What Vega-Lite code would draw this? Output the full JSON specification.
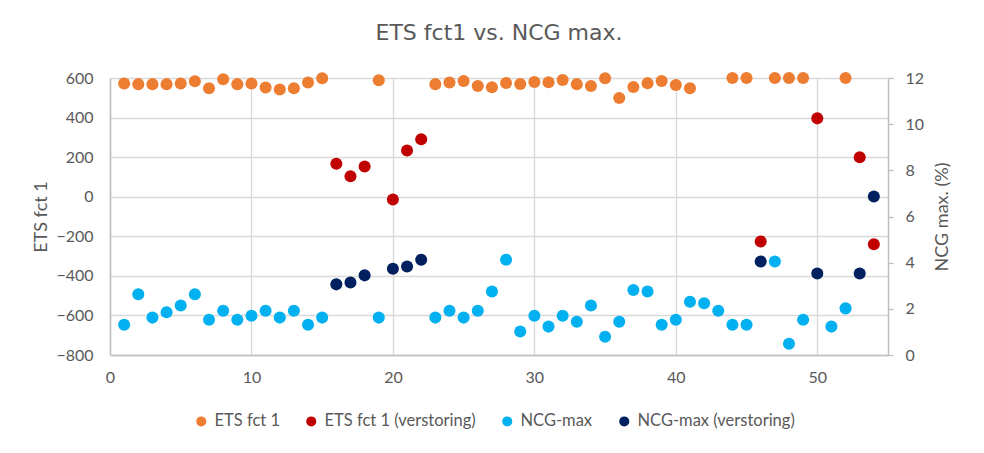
{
  "$schema": "https://vega.github.io/schema/vega-lite/v6.json",
  "width": 778,
  "height": 277,
  "autosize": {"type": "none"},
  "padding": {"left": 110, "top": 78, "right": 96, "bottom": 98},
  "background": "white",
  "title": {"text": "ETS fct1 vs. NCG max.", "font": "DejaVu Sans", "fontSize": 22, "fontWeight": "normal", "color": "#595959", "anchor": "middle", "offset": 25},
  "datasets": {
    "ets": [
      {"x": 1, "value": 572, "series": "ETS fct 1"},
      {"x": 2, "value": 569, "series": "ETS fct 1"},
      {"x": 3, "value": 569, "series": "ETS fct 1"},
      {"x": 4, "value": 569, "series": "ETS fct 1"},
      {"x": 5, "value": 572, "series": "ETS fct 1"},
      {"x": 6, "value": 584, "series": "ETS fct 1"},
      {"x": 7, "value": 548, "series": "ETS fct 1"},
      {"x": 8, "value": 594, "series": "ETS fct 1"},
      {"x": 9, "value": 569, "series": "ETS fct 1"},
      {"x": 10, "value": 572, "series": "ETS fct 1"},
      {"x": 11, "value": 552, "series": "ETS fct 1"},
      {"x": 12, "value": 542, "series": "ETS fct 1"},
      {"x": 13, "value": 548, "series": "ETS fct 1"},
      {"x": 14, "value": 577, "series": "ETS fct 1"},
      {"x": 15, "value": 599, "series": "ETS fct 1"},
      {"x": 19, "value": 589, "series": "ETS fct 1"},
      {"x": 23, "value": 569, "series": "ETS fct 1"},
      {"x": 24, "value": 577, "series": "ETS fct 1"},
      {"x": 25, "value": 585, "series": "ETS fct 1"},
      {"x": 26, "value": 560, "series": "ETS fct 1"},
      {"x": 27, "value": 553, "series": "ETS fct 1"},
      {"x": 28, "value": 575, "series": "ETS fct 1"},
      {"x": 29, "value": 570, "series": "ETS fct 1"},
      {"x": 30, "value": 580, "series": "ETS fct 1"},
      {"x": 31, "value": 579, "series": "ETS fct 1"},
      {"x": 32, "value": 590, "series": "ETS fct 1"},
      {"x": 33, "value": 569, "series": "ETS fct 1"},
      {"x": 34, "value": 560, "series": "ETS fct 1"},
      {"x": 35, "value": 599, "series": "ETS fct 1"},
      {"x": 36, "value": 499, "series": "ETS fct 1"},
      {"x": 37, "value": 555, "series": "ETS fct 1"},
      {"x": 38, "value": 574, "series": "ETS fct 1"},
      {"x": 39, "value": 585, "series": "ETS fct 1"},
      {"x": 40, "value": 565, "series": "ETS fct 1"},
      {"x": 41, "value": 548, "series": "ETS fct 1"},
      {"x": 44, "value": 600, "series": "ETS fct 1"},
      {"x": 45, "value": 600, "series": "ETS fct 1"},
      {"x": 47, "value": 600, "series": "ETS fct 1"},
      {"x": 48, "value": 600, "series": "ETS fct 1"},
      {"x": 49, "value": 600, "series": "ETS fct 1"},
      {"x": 52, "value": 600, "series": "ETS fct 1"},
      {"x": 16, "value": 167, "series": "ETS fct 1 (verstoring)"},
      {"x": 17, "value": 103, "series": "ETS fct 1 (verstoring)"},
      {"x": 18, "value": 153, "series": "ETS fct 1 (verstoring)"},
      {"x": 20, "value": -14, "series": "ETS fct 1 (verstoring)"},
      {"x": 21, "value": 234, "series": "ETS fct 1 (verstoring)"},
      {"x": 22, "value": 290, "series": "ETS fct 1 (verstoring)"},
      {"x": 46, "value": -226, "series": "ETS fct 1 (verstoring)"},
      {"x": 50, "value": 396, "series": "ETS fct 1 (verstoring)"},
      {"x": 53, "value": 199, "series": "ETS fct 1 (verstoring)"},
      {"x": 54, "value": -240, "series": "ETS fct 1 (verstoring)"}
    ],
    "ncg": [
      {"x": 1, "value": 1.31, "series": "NCG-max"},
      {"x": 2, "value": 2.63, "series": "NCG-max"},
      {"x": 3, "value": 1.62, "series": "NCG-max"},
      {"x": 4, "value": 1.85, "series": "NCG-max"},
      {"x": 5, "value": 2.14, "series": "NCG-max"},
      {"x": 6, "value": 2.63, "series": "NCG-max"},
      {"x": 7, "value": 1.53, "series": "NCG-max"},
      {"x": 8, "value": 1.92, "series": "NCG-max"},
      {"x": 9, "value": 1.53, "series": "NCG-max"},
      {"x": 10, "value": 1.70, "series": "NCG-max"},
      {"x": 11, "value": 1.92, "series": "NCG-max"},
      {"x": 12, "value": 1.62, "series": "NCG-max"},
      {"x": 13, "value": 1.92, "series": "NCG-max"},
      {"x": 14, "value": 1.31, "series": "NCG-max"},
      {"x": 15, "value": 1.62, "series": "NCG-max"},
      {"x": 19, "value": 1.62, "series": "NCG-max"},
      {"x": 23, "value": 1.62, "series": "NCG-max"},
      {"x": 24, "value": 1.92, "series": "NCG-max"},
      {"x": 25, "value": 1.62, "series": "NCG-max"},
      {"x": 26, "value": 1.92, "series": "NCG-max"},
      {"x": 27, "value": 2.75, "series": "NCG-max"},
      {"x": 28, "value": 4.13, "series": "NCG-max"},
      {"x": 29, "value": 1.02, "series": "NCG-max"},
      {"x": 30, "value": 1.70, "series": "NCG-max"},
      {"x": 31, "value": 1.23, "series": "NCG-max"},
      {"x": 32, "value": 1.70, "series": "NCG-max"},
      {"x": 33, "value": 1.44, "series": "NCG-max"},
      {"x": 34, "value": 2.14, "series": "NCG-max"},
      {"x": 35, "value": 0.79, "series": "NCG-max"},
      {"x": 36, "value": 1.44, "series": "NCG-max"},
      {"x": 37, "value": 2.82, "series": "NCG-max"},
      {"x": 38, "value": 2.75, "series": "NCG-max"},
      {"x": 39, "value": 1.31, "series": "NCG-max"},
      {"x": 40, "value": 1.53, "series": "NCG-max"},
      {"x": 41, "value": 2.31, "series": "NCG-max"},
      {"x": 42, "value": 2.24, "series": "NCG-max"},
      {"x": 43, "value": 1.92, "series": "NCG-max"},
      {"x": 44, "value": 1.31, "series": "NCG-max"},
      {"x": 45, "value": 1.31, "series": "NCG-max"},
      {"x": 47, "value": 4.05, "series": "NCG-max"},
      {"x": 48, "value": 0.49, "series": "NCG-max"},
      {"x": 49, "value": 1.53, "series": "NCG-max"},
      {"x": 51, "value": 1.23, "series": "NCG-max"},
      {"x": 52, "value": 2.02, "series": "NCG-max"},
      {"x": 16, "value": 3.06, "series": "NCG-max (verstoring)"},
      {"x": 17, "value": 3.14, "series": "NCG-max (verstoring)"},
      {"x": 18, "value": 3.45, "series": "NCG-max (verstoring)"},
      {"x": 20, "value": 3.74, "series": "NCG-max (verstoring)"},
      {"x": 21, "value": 3.83, "series": "NCG-max (verstoring)"},
      {"x": 22, "value": 4.13, "series": "NCG-max (verstoring)"},
      {"x": 46, "value": 4.05, "series": "NCG-max (verstoring)"},
      {"x": 50, "value": 3.53, "series": "NCG-max (verstoring)"},
      {"x": 53, "value": 3.53, "series": "NCG-max (verstoring)"},
      {"x": 54, "value": 6.87, "series": "NCG-max (verstoring)"}
    ]
  },
  "config": {
    "view": {"stroke": null},
    "axis": {
      "labelFont": "Lato", "labelFontSize": 16, "labelColor": "#595959",
      "titleFont": "Lato", "titleFontSize": 18, "titleColor": "#595959", "titleFontWeight": "normal",
      "domainColor": "#bfbfbf", "domainWidth": 1.5,
      "gridColor": "#d9d9d9", "gridWidth": 1.3,
      "tickColor": "#bfbfbf", "tickWidth": 1.3
    },
    "legend": {
      "labelFont": "Lato", "labelFontSize": 16.5, "labelColor": "#595959"
    }
  },
  "encoding": {
    "x": {
      "field": "x", "type": "quantitative",
      "scale": {"domain": [0, 55], "nice": false},
      "axis": {"values": [0, 10, 20, 30, 40, 50], "title": null, "ticks": false, "labelPadding": 14, "grid": true, "labelFlush": false}
    },
    "color": {
      "field": "series", "type": "nominal",
      "scale": {
        "domain": ["ETS fct 1", "ETS fct 1 (verstoring)", "NCG-max", "NCG-max (verstoring)"],
        "range": ["#ED7D31", "#C00000", "#00B0F0", "#002060"]
      },
      "legend": {
        "title": null, "orient": "none", "direction": "horizontal", "columns": 4,
        "legendX": 83, "legendY": 335, "columnPadding": 23,
        "symbolType": "circle", "symbolSize": 100, "labelOffset": 5
      }
    }
  },
  "layer": [
    {
      "data": {"name": "ets"},
      "mark": {"type": "point", "filled": true, "opacity": 1, "size": 145, "shape": "circle"},
      "encoding": {
        "y": {
          "field": "value", "type": "quantitative",
          "scale": {"domain": [-800, 600], "nice": false, "zero": false},
          "axis": {"values": [-800, -600, -400, -200, 0, 200, 400, 600], "title": "ETS fct 1", "ticks": false, "grid": true, "labelPadding": 17, "titlePadding": 5}
        }
      }
    },
    {
      "data": {"name": "ncg"},
      "mark": {"type": "point", "filled": true, "opacity": 1, "size": 145, "shape": "circle"},
      "encoding": {
        "y": {
          "field": "value", "type": "quantitative",
          "scale": {"domain": [0, 12], "nice": false},
          "axis": {"orient": "right", "values": [0, 2, 4, 6, 8, 10, 12], "title": "NCG max. (%)", "titleAngle": 270, "titleBaseline": "bottom", "ticks": true, "tickSize": 5, "grid": false, "labelPadding": 12, "titlePadding": 28}
        }
      }
    }
  ],
  "resolve": {"scale": {"y": "independent"}}
}
